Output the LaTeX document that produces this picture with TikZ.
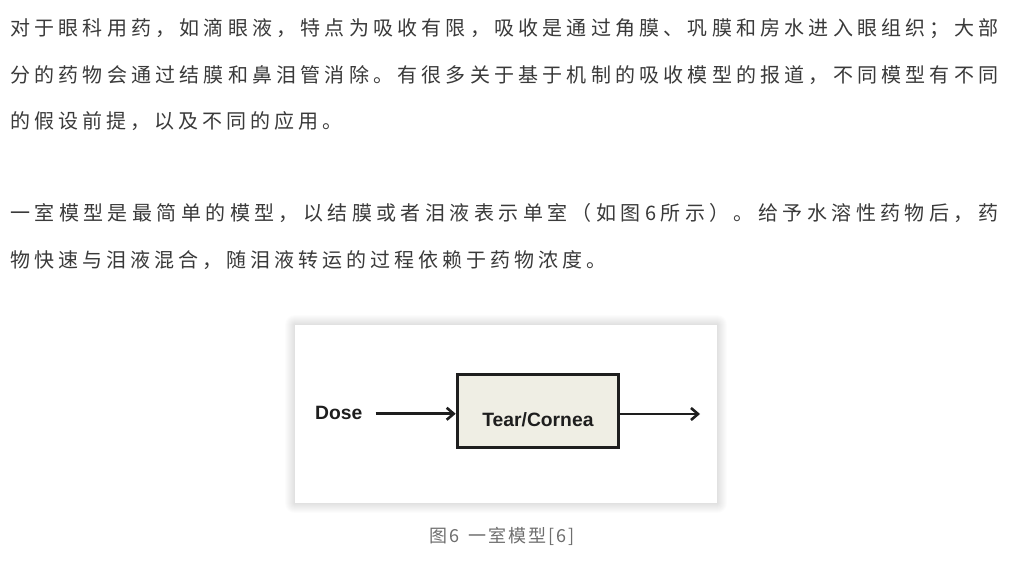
\documentclass[tikz,border=0pt]{standalone}
\usepackage{fontspec}
\setmainfont{Liberation Sans}
\newfontfamily\cjk{Noto Sans CJK SC}
\usetikzlibrary{arrows.meta}
\definecolor{bodytxt}{HTML}{3A3A3A}
\definecolor{captxt}{HTML}{6E6E6E}
\definecolor{boxfill}{HTML}{EFEEE4}
\definecolor{ink}{HTML}{1E1E1E}
\makeatletter
\newcommand\spc[1]{\spc@loop#1\relax\unskip}
\def\spc@loop#1{\ifx\relax#1\else#1\hskip\chgap\relax\expandafter\spc@loop\fi}
\makeatother
\newcommand\jline[1]{\hbox to 988pt{\def\chgap{4pt plus 1fil}\spc{#1}}}
\newcommand\nline[1]{\hbox{\def\chgap{4pt}\spc{#1}}}
\tikzset{
  body/.style={font=\cjk\fontsize{20}{20}\selectfont, text=bodytxt, inner sep=0pt, anchor=base west},
  caption/.style={font=\cjk\fontsize{18}{18}\selectfont, text=captxt, inner sep=0pt, anchor=base west},
  panel/.style={fill=white, inner sep=0pt, minimum width=422pt, minimum height=178pt},
  compbox/.style={draw=ink, line width=2.8pt, fill=boxfill, inner sep=0pt,
    minimum width=161.6pt, minimum height=73.6pt, text height=30.2pt, text depth=0pt,
    font=\bfseries\fontsize{19.3}{19.3}\selectfont, text=ink},
  lbl/.style={font=\bfseries\fontsize{19.3}{19.3}\selectfont, text=ink, inner sep=0pt, anchor=base west},
  arr/.style={draw=ink, line width=2.6pt, -{Straight Barb[length=7pt,width=12pt]}}
}
\begin{document}
\begin{tikzpicture}[x=1pt,y=-1pt]
\useasboundingbox[fill=white] (0,0) rectangle (1022,568);
% paragraph 1
\node[body] (p1a) at (10,35.4) {\jline{对于眼科用药，如滴眼液，特点为吸收有限，吸收是通过角膜、巩膜和房水进入眼组织；大部}};
\node[body] (p1b) at (10,82) {\jline{分的药物会通过结膜和鼻泪管消除。有很多关于基于机制的吸收模型的报道，不同模型有不同}};
\node[body] (p1c) at (10,128.7) {\nline{的假设前提，以及不同的应用。}};
% paragraph 2
\node[body] (p2a) at (10,220.4) {\jline{一室模型是最简单的模型，以结膜或者泪液表示单室（如图6所示）。给予水溶性药物后，药}};
\node[body] (p2b) at (10,267) {\nline{物快速与泪液混合，随泪液转运的过程依赖于药物浓度。}};
% figure panel with soft shadow
\foreach \i in {1,...,10}{
  \fill[black, opacity=0.012, rounded corners=\i pt] ({295-\i},{325-\i}) rectangle ({717+\i},{503+\i});
}
\node[panel] (fig) at (506,414) {};
\node[compbox] (box) at (537.9,410.9) {Tear/Cornea};
\node[lbl] (dose) at (315,419) {Dose};
\coordinate (din) at ([yshift=-1.3pt]dose.east);
\coordinate (out) at (700,414);
\draw[arr, shorten <=13pt] (din) -- (din -| box.west);
\draw[arr] (box.east |- out) -- (out);
% caption
\node[caption] (cap) at (429,542.6) {\hbox{\def\chgap{2pt}\spc{图6}\hskip 9pt\spc{一室模型[6]}}};
\end{tikzpicture}
\end{document}
